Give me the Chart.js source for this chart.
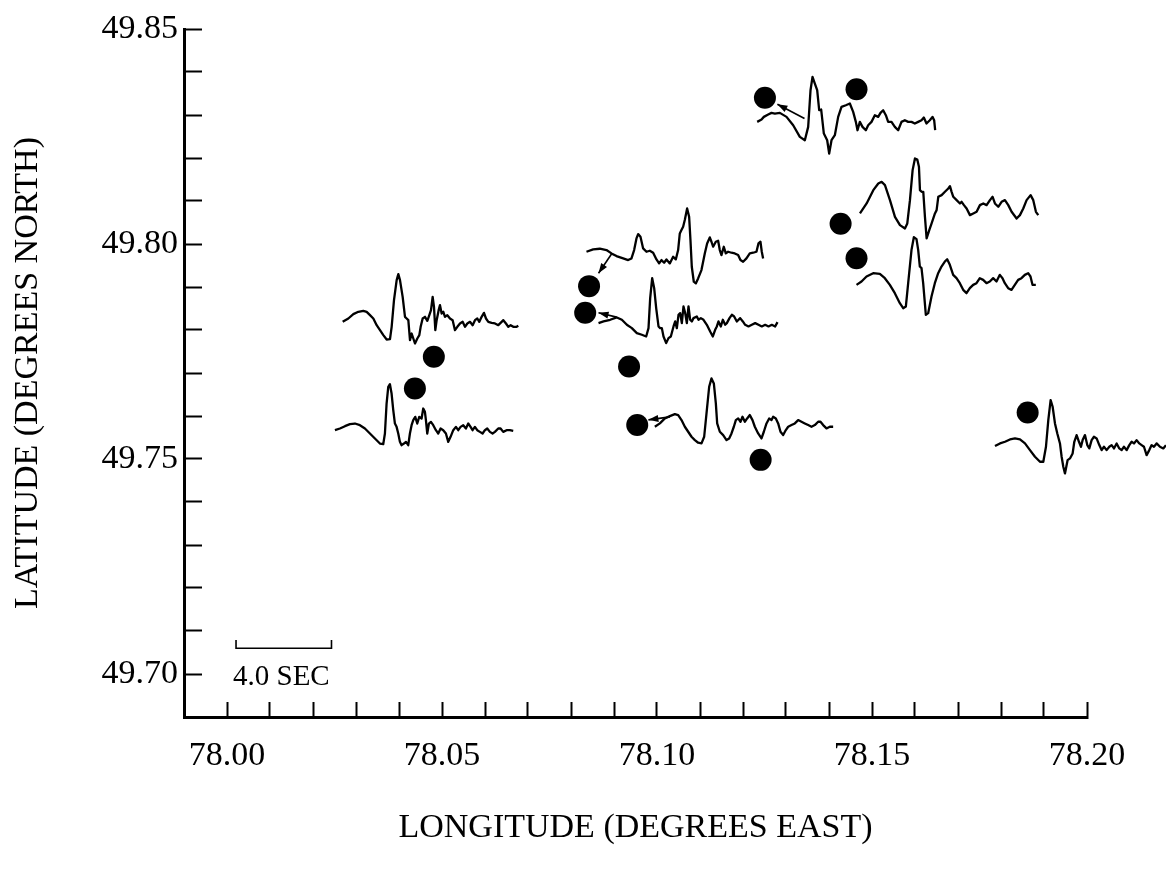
<!DOCTYPE html>
<html lang="en">
<head>
<meta charset="UTF-8">
<title>Seismograms over epicentres</title>
<script src="https://cdn.jsdelivr.net/npm/chart.js@4.4.1/dist/chart.umd.min.js"></script>
<style>
  html, body { margin: 0; padding: 0; background: #fff; }
  #wrap { width: 1166px; height: 879px; }
</style>
</head>
<body>
<div id="wrap"><canvas id="chart" width="1166" height="879"></canvas></div>
<script>
// axis ranges and labels
var lonMin = 77.99, lonMax = 78.20;
var latMin = 49.69, latMax = 49.85;
var lonLabels = ["78.00", "78.05", "78.10", "78.15", "78.20"];
var latLabels = ["49.70", "49.75", "49.80", "49.85"];

// event locations (black dots)
var eventLon = [78.1251, 78.1464, 78.1427, 78.1464, 78.0842, 78.0833, 78.0481, 78.0437, 78.0935, 78.0954, 78.1241, 78.1862];
var eventLat = [49.8340, 49.8360, 49.8047, 49.7967, 49.7902, 49.7840, 49.7738, 49.7664, 49.7715, 49.7579, 49.7498, 49.7608];

// seismograms: [sample, counts], placed on the map at their first sample
var SEC_PER_SAMPLE = 0.01393;
var DEG_PER_SEC = 0.005564;     // 4.0 s on the scale bar
var DEG_PER_COUNT = 0.0000775;

var traceLon = [78.1233, 78.1472, 78.1464, 78.0836, 78.0864, 78.0269, 78.0251, 78.0995, 78.1786];
var traceLat = [49.8284, 49.8071, 49.7905, 49.7982, 49.7816, 49.7819, 49.7567, 49.7575, 49.7530];

var trace1 = [[0,0],[13,7],[20,15],[33,22],[43,27],[53,25],[68,27],[88,15],[108,-10],[128,-45],[143,-55],[153,-15],[160,95],[166,135],[173,115],[180,95],[186,35],[192,37],[200,-35],[210,-55],[216,-95],[223,-55],[233,-40],[243,15],[253,45],[266,50],[278,55],[288,30],[296,0],[301,-25],[308,0],[316,-15],[326,-25],[333,-10],[343,0],[353,20],[363,15],[370,27],[378,35],[386,20],[393,0],[403,0],[413,-15],[423,-25],[433,0],[443,5],[453,0],[463,0],[473,-5],[483,0],[493,5],[500,13],[508,-5],[518,5],[526,15],[531,5],[534,-25]];
var trace2 = [[0,0],[20,30],[40,70],[55,90],[65,95],[75,85],[90,40],[105,-10],[120,-35],[135,-45],[142,-30],[150,40],[158,130],[165,165],[172,162],[177,140],[180,70],[185,65],[190,65],[195,-10],[200,-75],[208,-50],[215,-30],[225,0],[230,10],[235,50],[245,55],[255,65],[265,75],[270,82],[275,65],[280,50],[290,40],[300,30],[305,35],[312,25],[320,15],[330,-5],[340,0],[350,5],[360,25],[370,30],[380,25],[390,40],[398,50],[405,30],[415,20],[425,35],[435,40],[445,25],[455,5],[470,-15],[480,-5],[490,15],[500,40],[512,55],[520,40],[528,5],[535,-5]];
var trace3 = [[0,0],[15,10],[30,25],[50,35],[70,33],[85,20],[100,0],[115,-25],[130,-55],[140,-70],[148,-65],[155,5],[165,105],[172,143],[180,137],[185,105],[190,55],[195,50],[200,5],[208,-90],[215,-85],[225,-35],[235,5],[245,35],[255,55],[265,70],[272,77],[280,60],[290,30],[300,20],[310,5],[320,-15],[330,-25],[340,-10],[350,0],[360,5],[370,20],[380,15],[390,5],[400,10],[410,20],[420,10],[430,30],[438,20],[445,5],[455,-10],[465,-15],[475,0],[485,15],[495,20],[505,30],[515,35],[522,25],[528,0],[538,0]];
var trace4 = [[0,0],[20,7],[40,9],[60,5],[75,-5],[90,-13],[110,-20],[125,-25],[135,-20],[143,5],[150,40],[155,53],[162,45],[170,10],[180,0],[190,3],[200,-3],[210,-23],[218,-35],[225,-25],[233,-33],[240,-23],[250,-35],[260,-15],[268,-23],[275,5],[280,55],[285,65],[290,75],[295,95],[302,130],[308,105],[312,35],[316,-45],[322,-90],[328,-95],[335,-80],[345,-55],[355,-5],[362,25],[370,43],[375,30],[380,15],[388,30],[395,33],[400,5],[405,-10],[412,15],[418,-5],[425,0],[435,-3],[445,-5],[455,-10],[462,-25],[470,-30],[480,-20],[490,-5],[500,-3],[510,0],[516,25],[522,30],[526,0],[530,-20]];
var trace5 = [[0,0],[15,5],[35,10],[55,17],[70,10],[85,-5],[100,-15],[115,-30],[130,-35],[143,-40],[150,-15],[155,75],[161,135],[167,105],[173,45],[180,-10],[185,-15],[190,-15],[195,-40],[203,-60],[210,-45],[217,-40],[225,-10],[230,5],[235,-15],[240,25],[245,30],[250,0],[255,50],[260,30],[265,0],[270,50],[275,10],[280,5],[285,15],[295,20],[300,10],[307,15],[315,10],[325,-5],[335,-25],[343,-40],[350,-20],[355,-10],[360,5],[367,-10],[373,10],[380,-5],[385,0],[393,15],[400,25],[407,20],[415,5],[425,15],[433,5],[440,-5],[450,-10],[460,-5],[470,0],[480,-5],[490,-10],[500,-5],[510,-10],[520,-5],[530,-10],[537,3]];
var trace6 = [[0,0],[17,10],[32,23],[47,30],[62,33],[72,30],[82,20],[92,10],[102,-10],[112,-25],[122,-40],[132,-53],[142,-52],[147,-15],[154,65],[162,125],[167,143],[172,125],[180,75],[187,15],[192,10],[197,5],[202,-55],[207,-35],[212,-50],[217,-65],[224,-50],[230,-40],[234,-15],[240,10],[247,15],[254,3],[260,20],[265,35],[270,75],[274,45],[278,-25],[282,5],[288,35],[292,50],[297,25],[302,30],[307,15],[314,20],[322,10],[330,5],[337,-25],[344,-15],[352,-5],[360,0],[367,-15],[374,-5],[382,0],[390,-10],[397,5],[404,10],[410,0],[417,15],[424,27],[430,10],[437,0],[447,-3],[457,-5],[467,-10],[477,0],[482,5],[490,-5],[497,-15],[504,-10],[512,-15],[522,-15],[527,-12]];
var trace7 = [[0,0],[15,5],[30,12],[45,18],[60,20],[75,15],[90,5],[105,-10],[120,-25],[135,-40],[145,-42],[150,-10],[155,80],[160,130],[165,138],[170,110],[175,60],[180,20],[185,10],[190,-10],[195,-35],[200,-45],[207,-40],[213,-35],[220,-45],[225,-10],[230,15],[235,30],[241,40],[247,20],[253,40],[260,35],[265,65],[270,55],[273,30],[277,-10],[282,20],[288,25],[295,15],[303,0],[310,-10],[317,5],[325,0],[333,-10],[340,-35],[347,-20],[355,0],[363,10],[370,0],[377,10],[385,15],[393,5],[400,20],[407,10],[413,0],[420,10],[427,0],[435,-5],[443,-10],[450,0],[457,5],[465,-5],[473,-10],[480,-5],[490,5],[497,5],[505,-5],[515,0],[525,0],[535,-2]];
var trace8 = [[0,0],[15,10],[30,25],[45,32],[60,38],[70,35],[80,20],[90,0],[100,-15],[110,-30],[120,-40],[130,-48],[140,-50],[148,-30],[155,40],[163,120],[170,145],[177,130],[183,70],[187,10],[195,-15],[205,-25],[215,-40],[223,-35],[230,-20],[237,0],[243,20],[250,25],[257,15],[263,30],[270,15],[277,25],[285,35],[293,20],[300,0],[310,-20],[320,-35],[327,-15],[335,10],[343,25],[350,20],[355,30],[363,25],[370,10],[377,-15],[385,-25],[393,-10],[400,0],[410,5],[420,10],[430,20],[440,15],[450,10],[460,5],[470,0],[480,5],[490,15],[497,15],[505,5],[515,-5],[525,0],[535,0]];
var trace9 = [[0,0],[15,8],[30,13],[45,20],[60,23],[75,20],[90,8],[105,-12],[120,-32],[135,-47],[145,-47],[153,-2],[160,78],[167,138],[173,118],[180,68],[187,38],[195,8],[200,-32],[205,-62],[210,-82],[215,-57],[218,-42],[225,-37],[233,-22],[238,13],[245,33],[252,13],[258,-2],[263,18],[270,33],[277,3],[283,-7],[290,18],[297,28],[305,23],[313,3],[320,-12],[327,-2],[335,-12],[343,-2],[350,3],[357,-7],[365,8],[373,-7],[380,-12],[387,-2],[395,-12],[403,3],[410,13],[417,8],[425,18],[433,8],[440,3],[447,-2],[455,-27],[463,-12],[470,3],[477,-2],[485,8],[495,-2],[505,-7],[513,3]];
var traces = [trace1, trace2, trace3, trace4, trace5, trace6, trace7, trace8, trace9];

// arrows from a trace to its event
var arrowFromLon = [78.1343, 78.0895, 78.0906, 78.1030];
var arrowFromLat = [49.8292, 49.7978, 49.7830, 49.7598];
var arrowToLon = [78.1280, 78.0864, 78.0864, 78.0980];
var arrowToLat = [49.8325, 49.7932, 49.7840, 49.7591];

// 4.0 s time scale bar
var scaleBarLon = [78.0021, 78.0021, 78.0243, 78.0243];
var scaleBarLat = [49.7079, 49.7060, 49.7060, 49.7079];
var scaleBarText = "4.0 SEC";
var scaleTextLon = 78.0014, scaleTextLat = 49.6974;

var SERIF = "'Liberation Serif', 'Times New Roman', Times, serif";
Chart.defaults.font.family = SERIF;
Chart.defaults.color = "#000";

var datasets = [];
datasets.push({
    type: "scatter",
    data: eventLon.map(function (v, i) { return { x: v, y: eventLat[i] }; }),
    pointRadius: 11,
    pointBackgroundColor: "#000",
    pointBorderWidth: 0,
    clip: false,
    order: 0
});
traces.forEach(function (tr, k) {
    var pts = tr.map(function (p) {
        return { x: traceLon[k] + p[0] * SEC_PER_SAMPLE * DEG_PER_SEC, y: traceLat[k] + p[1] * DEG_PER_COUNT };
    });
    // the last trace runs past the axis end; reversed order keeps Chart.js from trimming it
    if (pts[pts.length - 1].x > lonMax) pts.reverse();
    datasets.push({
        type: "line",
        data: pts,
        borderColor: "#000",
        borderWidth: 2.3,
        borderJoinStyle: "round",
        pointRadius: 0,
        tension: 0,
        clip: false,
        order: 2
    });
});
arrowFromLon.forEach(function (v, i) {
    datasets.push({
        type: "line",
        data: [{ x: v, y: arrowFromLat[i] }, { x: arrowToLon[i], y: arrowToLat[i] }],
        borderColor: "#000",
        borderWidth: 1.6,
        pointRadius: 0,
        clip: false,
        order: 1
    });
});
datasets.push({
    type: "line",
    data: scaleBarLon.map(function (v, i) { return { x: v, y: scaleBarLat[i] }; }),
    borderColor: "#000",
    borderWidth: 1.6,
    pointRadius: 0,
    order: 1
});

// arrow heads and scale bar caption
var extras = {
    id: "extras",
    afterDatasetsDraw: function (chart) {
        var ctx = chart.ctx, xs = chart.scales.x, ys = chart.scales.y;
        ctx.save();
        ctx.fillStyle = "#000";
        arrowFromLon.forEach(function (v, i) {
            var x0 = xs.getPixelForValue(v), y0 = ys.getPixelForValue(arrowFromLat[i]);
            var x1 = xs.getPixelForValue(arrowToLon[i]), y1 = ys.getPixelForValue(arrowToLat[i]);
            var a = Math.atan2(y1 - y0, x1 - x0), len = 10, w = 3.5;
            ctx.beginPath();
            ctx.moveTo(x1, y1);
            ctx.lineTo(x1 - len * Math.cos(a) + w * Math.sin(a), y1 - len * Math.sin(a) - w * Math.cos(a));
            ctx.lineTo(x1 - len * Math.cos(a) - w * Math.sin(a), y1 - len * Math.sin(a) + w * Math.cos(a));
            ctx.closePath();
            ctx.fill();
        });
        ctx.font = "29px " + SERIF;
        ctx.textAlign = "left";
        ctx.textBaseline = "alphabetic";
        ctx.fillText(scaleBarText, xs.getPixelForValue(scaleTextLon), ys.getPixelForValue(scaleTextLat));
        ctx.restore();
    }
};

new Chart(document.getElementById("chart"), {
    type: "scatter",
    data: { datasets: datasets },
    plugins: [extras],
    options: {
        responsive: false,
        animation: false,
        events: [],
        layout: { padding: { left: 0, right: 79, top: 29, bottom: 0 } },
        plugins: { legend: { display: false }, tooltip: { enabled: false } },
        scales: {
            x: {
                type: "linear",
                min: lonMin,
                max: lonMax,
                afterFit: function (s) { s.height = 162; },
                border: { display: true, color: "#000", width: 3 },
                grid: { drawOnChartArea: false, drawTicks: true, tickLength: -15, tickWidth: 2, tickColor: "#000" },
                ticks: {
                    stepSize: 0.01,
                    autoSkip: false,
                    maxRotation: 0,
                    minRotation: 0,
                    padding: 34,
                    font: { size: 34 },
                    callback: function (v) { var s = Number(v).toFixed(2); return lonLabels.indexOf(s) >= 0 ? s : ""; }
                },
                title: { display: true, text: "LONGITUDE (DEGREES EAST)", font: { size: 34 }, padding: { bottom: 31 } }
            },
            y: {
                type: "linear",
                min: latMin,
                max: latMax,
                afterFit: function (s) { s.width = 184; s.paddingTop = 0; s.paddingBottom = 0; },
                border: { display: true, color: "#000", width: 3 },
                grid: { drawOnChartArea: false, drawTicks: true, tickLength: -18, tickWidth: 2, tickColor: "#000" },
                ticks: {
                    stepSize: 0.01,
                    autoSkip: false,
                    padding: 24,
                    font: { size: 34 },
                    callback: function (v) { var s = Number(v).toFixed(2); return latLabels.indexOf(s) >= 0 ? s : ""; }
                },
                title: { display: true, text: "LATITUDE (DEGREES NORTH)", font: { size: 34 }, padding: { top: 8 } }
            }
        }
    }
});
</script>
</body>
</html>
